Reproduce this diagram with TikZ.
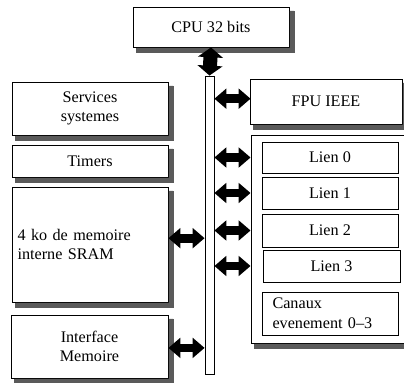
\documentclass[tikz,border=0pt]{standalone}
\usepackage{fontspec}
\setmainfont{Liberation Serif}
\usetikzlibrary{arrows.meta}

\begin{document}
\begin{tikzpicture}[x=0.025cm, y=-0.025cm,
	bloc/.style={draw, fill=white, line width=0.6pt, inner sep=2pt, font=\fontsize{11.5}{14}\selectfont},
	ombre/.style={fill={rgb,255:red,90;green,90;blue,90}, draw={rgb,255:red,90;green,90;blue,90}, line width=0.4pt},
	lien/.style={draw, fill=white, line width=0.6pt, inner sep=2pt, minimum width=3.4cm, font=\fontsize{11.5}{14}\selectfont},
	dbl/.style={line width=6.2pt, {Triangle[width=14pt,length=8.5pt]}-{Triangle[width=14pt,length=8.5pt]}},
	dblv/.style={line width=10pt, {Triangle[width=17.5pt,length=7pt]}-{Triangle[width=17.5pt,length=7pt]}}]
		\useasboundingbox (0,0) rectangle (404,383);
		%\draw[red] (0,0) rectangle (404,383);
		
		\node[bloc, minimum width=3.9cm, minimum height=1cm] (cpu) at (211,27) {CPU 32 bits};
		\node[bloc, minimum width=3.9cm, minimum height=1.325cm, align=center] (serv) at (90,108.5) {Services\\systemes};
		\node[bloc, minimum width=3.9cm, minimum height=0.8cm] (timers) at (90,161) {Timers};
		\node[bloc, minimum width=3.9cm, minimum height=2.875cm, inner xsep=4pt, text width=3.9cm-8pt, align=left] (sram) at (90,244.5) {4 ko de memoire\\interne SRAM};
		\node[bloc, minimum width=3.925cm, minimum height=1.575cm, align=center] (interf) at (89.5,346.5) {Interface\\Memoire};
		\node[bloc, minimum width=3.8cm, minimum height=1.125cm] (fpu) at (326,101.5) {FPU IEEE};
		\node[bloc, minimum width=3.875cm, minimum height=5.2cm] (liens) at (328.5,239) {};
		
		% ombres
		\foreach \b in {cpu, serv, timers, sram, interf, fpu, liens}
			\filldraw[ombre] ([xshift=0.3pt, yshift=-3pt]\b.north east) rectangle ([xshift=3.3pt, yshift=-3.3pt]\b.south east)
				([xshift=3pt, yshift=-0.3pt]\b.south west) rectangle ([xshift=3.3pt, yshift=-3.3pt]\b.south east);
		
		\node[draw, fill=white, line width=0.6pt, inner sep=0pt, minimum width=0.225cm, minimum height=7.45cm] (bus) at (209.5,225) {};
		
		\node[lien, minimum height=0.775cm] (l0) at (330,157.5) {Lien 0};
		\node[lien, minimum height=0.8cm] (l1) at (330,193) {Lien 1};
		\node[lien, minimum height=0.825cm] (l2) at (330,230.5) {Lien 2};
		\node[lien, minimum width=3.425cm, minimum height=0.8cm] (l3) at (331.5,266) {Lien 3};
		\node[lien, minimum height=1.075cm, inner xsep=7.5pt, text width=3.4cm-15pt, align=left] (canaux) at (330,313.5) {Canaux\\evenement 0--3};
		
		\path[dblv] (cpu.south) edge (bus.north);
		\path[dbl]
		([yshift=2pt]bus.east |- fpu) edge ([yshift=2pt]liens.west |- fpu)
		(bus.east |- l0) edge (liens.west |- l0)
		(bus.east |- l1) edge (liens.west |- l1)
		(bus.east |- l2) edge (liens.west |- l2)
		(bus.east |- l3) edge (liens.west |- l3)
		([yshift=4.5pt]sram.east) edge ([yshift=4.5pt]bus.west |- sram)
		([yshift=-1pt]interf.east) edge ([yshift=-1pt]bus.west |- interf);
		
	\end{tikzpicture}
\end{document}
